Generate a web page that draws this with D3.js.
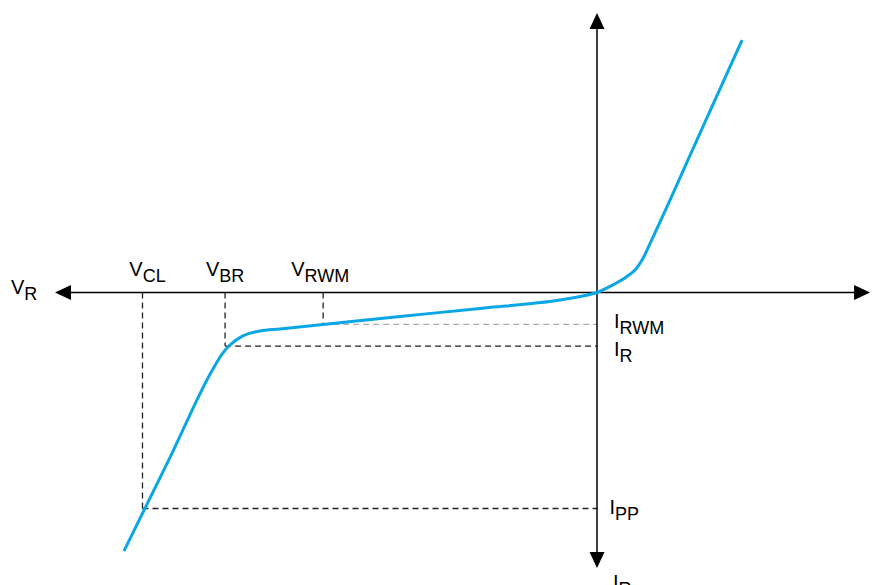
<!DOCTYPE html>
<html>
<head>
<meta charset="utf-8">
<script src="https://cdn.jsdelivr.net/npm/d3@7"></script>
<style>
  html, body { margin: 0; padding: 0; background: #fff; }
  svg { display: block; font-family: "Liberation Sans", Arial, sans-serif; }
</style>
</head>
<body>
<svg id="chart" width="873" height="585"></svg>
<script>
// TVS diode I-V characteristic (reverse quadrant drawn to the left / down)

// Curve samples: voltage (V) and current (I), arbitrary units
const curveV = [-12.49, -11.27, -10.14, -9.90, -9.69, -9.35, -8.90, -8.37, -7.23, -5.20, -3.09, -0.98, -0.45, 0, 0.42, 0.79, 1.03, 1.19, 1.43, 2.72, 3.83];
const curveI = [-11.97, -7.62, -3.54, -2.85, -2.43, -2.01, -1.78, -1.69, -1.484, -1.114, -0.736, -0.347, -0.185, 0, 0.35, 0.74, 1.09, 1.50, 2.38, 7.38, 11.69];

// Characteristic points
const vLabels = [
  { main: "V", sub: "CL", value: -12.0 },
  { main: "V", sub: "BR", value: -9.82 },
  { main: "V", sub: "RWM", value: -7.23 }
];
const iLabels = [
  { main: "I", sub: "RWM", value: -1.48 },
  { main: "I", sub: "R", value: -2.48 },
  { main: "I", sub: "PP", value: -10.0 }
];
// Axis extents (arrow tips)
const vExtent = [-14.31, 7.21];
const iExtent = [-12.75, 12.94];
const axisTitles = [
  { main: "V", sub: "R" },
  { main: "I", sub: "R" }
];

const svg = d3.select("#chart");
const x = d3.scaleLinear().domain([-12, 0]).range([142.5, 597]);
const y = d3.scaleLinear().domain([-10, 0]).range([508.5, 292.5]);

const blue = "#0aa6e6";
const x0 = x(0), y0 = y(0);

// Dashed reference lines
const vcl = vLabels[0].value, vbr = vLabels[1].value, vrwm = vLabels[2].value;
const irwm = iLabels[0].value, ir = iLabels[1].value, ipp = iLabels[2].value;
const dashLines = [
  { x1: x(vcl), y1: y0, x2: x(vcl), y2: y(ipp), c: "#222" },
  { x1: x(vbr), y1: y0, x2: x(vbr), y2: y(ir), c: "#222" },
  { x1: x(vrwm), y1: y0, x2: x(vrwm), y2: y(irwm), c: "#222" },
  { x1: x(vrwm), y1: y(irwm), x2: x0, y2: y(irwm), c: "#aaa" },
  { x1: x(vbr), y1: y(ir), x2: x0, y2: y(ir), c: "#222" },
  { x1: x(vcl), y1: y(ipp), x2: x0, y2: y(ipp), c: "#222" }
];
svg.append("g").selectAll("line").data(dashLines).join("line")
  .attr("x1", d => d.x1).attr("y1", d => d.y1)
  .attr("x2", d => d.x2).attr("y2", d => d.y2)
  .attr("stroke", d => d.c).attr("stroke-width", 1.3)
  .attr("stroke-dasharray", "6,4");

// Axes with arrowheads at both ends
const axes = svg.append("g");
const L = 16, W = 7.5;
const xl = x(vExtent[0]), xr = x(vExtent[1]);
const yb = y(iExtent[0]), yt = y(iExtent[1]);
axes.append("line").attr("x1", xl + L).attr("x2", xr - L).attr("y1", y0).attr("y2", y0)
  .attr("stroke", "#000").attr("stroke-width", 1.5);
axes.append("line").attr("x1", x0).attr("x2", x0).attr("y1", yt + L).attr("y2", yb - L)
  .attr("stroke", "#000").attr("stroke-width", 1.5);
const arrows = [
  [[xl, y0], [xl + L, y0 - W], [xl + L, y0 + W]],
  [[xr, y0], [xr - L, y0 - W], [xr - L, y0 + W]],
  [[x0, yt], [x0 - W, yt + L], [x0 + W, yt + L]],
  [[x0, yb], [x0 - W, yb - L], [x0 + W, yb - L]]
];
axes.selectAll("path").data(arrows).join("path")
  .attr("d", d => "M" + d.join("L") + "Z").attr("fill", "#000");

// I-V curve
const pts = curveV.map((v, i) => [v, curveI[i]]);
const line = d3.line().x(d => x(d[0])).y(d => y(d[1])).curve(d3.curveMonotoneX);
svg.append("path").datum(pts).attr("d", line)
  .attr("fill", "none").attr("stroke", blue).attr("stroke-width", 3)
  .attr("stroke-linecap", "butt").attr("stroke-linejoin", "round");

// Labels
function label(g, tx, ty, d, anchor) {
  const t = g.append("text").attr("x", tx).attr("y", ty).attr("fill", "#000")
    .attr("text-anchor", anchor || "start")
    .style("font-size", "20px");
  t.append("tspan").text(d.main);
  t.append("tspan").attr("dy", 6).style("font-size", "18px").text(d.sub);
}
const lab = svg.append("g");
const vShift = [5, 0, -3];
vLabels.forEach((d, i) => label(lab, x(d.value) + vShift[i], 276, d, "middle"));
label(lab, 614, y(irwm) + 3.5, iLabels[0]);
label(lab, 614, y(ir) + 9.5, iLabels[1]);
label(lab, 609.5, y(ipp) + 5, iLabels[2]);
label(lab, 11, 294, axisTitles[0]);
label(lab, 613, 589, axisTitles[1]);
</script>
</body>
</html>
